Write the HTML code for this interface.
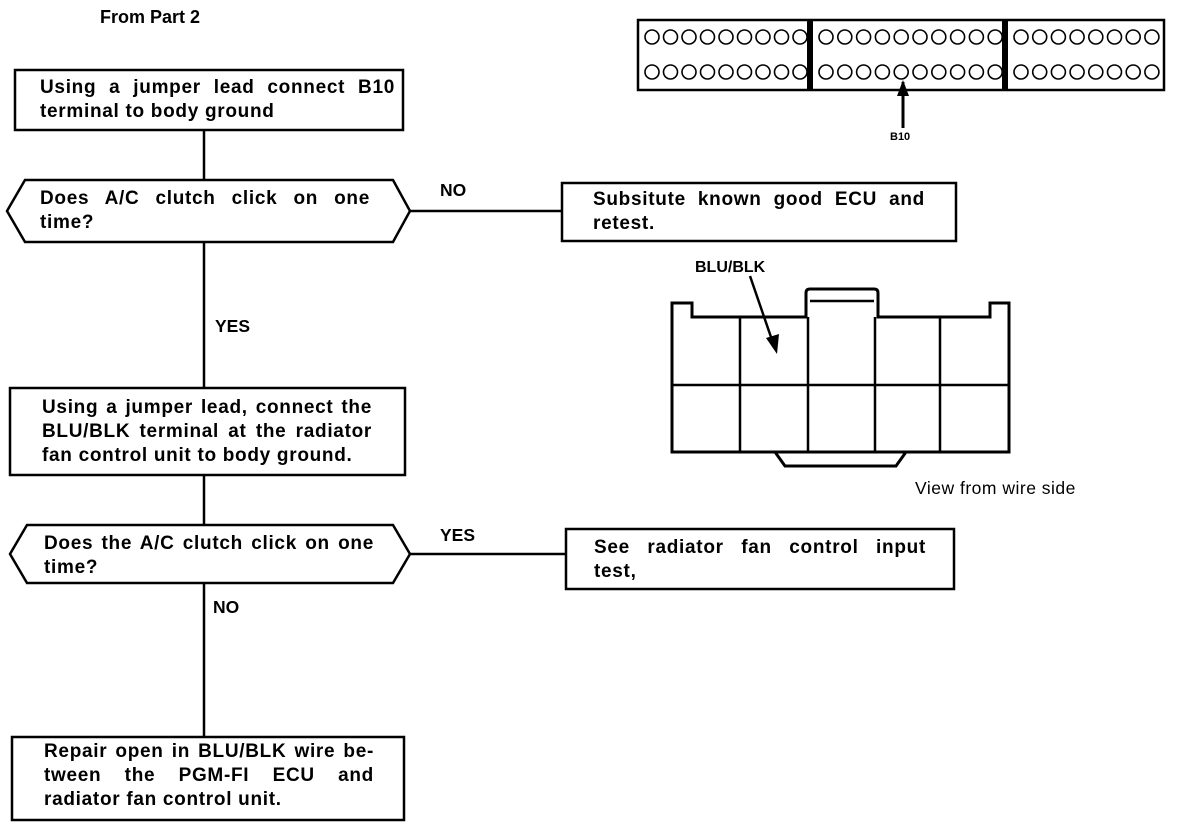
<!DOCTYPE html>
<html><head><meta charset="utf-8"><style>
html,body{margin:0;padding:0;background:#fff;}
body{width:1184px;height:828px;position:relative;overflow:hidden;font-family:"Liberation Sans",sans-serif;font-weight:bold;color:#000;}
.t{position:absolute;font-size:19px;line-height:24px;letter-spacing:0.7px;}
.t div{white-space:nowrap;}
.t .j{text-align:justify;text-align-last:justify;white-space:normal;}
.l{position:absolute;font-size:17.5px;}
svg{position:absolute;left:0;top:0;}
</style></head><body>
<svg width="1184" height="828" viewBox="0 0 1184 828" fill="none" stroke="#000" stroke-width="2.5">
<rect x="15" y="70" width="388" height="60"/>
<line x1="204" y1="130" x2="204" y2="180"/>
<polygon points="25,180 393,180 410,211 393,242 25,242 7,211"/>
<line x1="410" y1="211" x2="562" y2="211"/>
<rect x="562" y="183" width="394" height="58"/>
<line x1="204" y1="242" x2="204" y2="388"/>
<rect x="10" y="388" width="395" height="87"/>
<line x1="204" y1="475" x2="204" y2="525"/>
<polygon points="27,525 393,525 410,554 393,583 27,583 10,554"/>
<line x1="410" y1="554" x2="566" y2="554"/>
<rect x="566" y="529" width="388" height="60"/>
<line x1="204" y1="583" x2="204" y2="737"/>
<rect x="12" y="737" width="392" height="83"/>
<rect x="638" y="20" width="526" height="70"/>
<line x1="810" y1="20" x2="810" y2="90" stroke-width="6"/>
<line x1="1005" y1="20" x2="1005" y2="90" stroke-width="6"/>
<g stroke-width="1.6">
<g id="r1">
<circle cx="652" cy="37" r="7"/><circle cx="670.5" cy="37" r="7"/><circle cx="689" cy="37" r="7"/><circle cx="707.5" cy="37" r="7"/><circle cx="726" cy="37" r="7"/><circle cx="744.5" cy="37" r="7"/><circle cx="763" cy="37" r="7"/><circle cx="781.5" cy="37" r="7"/><circle cx="800" cy="37" r="7"/>
<circle cx="826" cy="37" r="7"/><circle cx="844.8" cy="37" r="7"/><circle cx="863.6" cy="37" r="7"/><circle cx="882.4" cy="37" r="7"/><circle cx="901.2" cy="37" r="7"/><circle cx="920" cy="37" r="7"/><circle cx="938.8" cy="37" r="7"/><circle cx="957.6" cy="37" r="7"/><circle cx="976.4" cy="37" r="7"/><circle cx="995.2" cy="37" r="7"/>
<circle cx="1021" cy="37" r="7"/><circle cx="1039.7" cy="37" r="7"/><circle cx="1058.4" cy="37" r="7"/><circle cx="1077.1" cy="37" r="7"/><circle cx="1095.8" cy="37" r="7"/><circle cx="1114.5" cy="37" r="7"/><circle cx="1133.2" cy="37" r="7"/><circle cx="1151.9" cy="37" r="7"/>
</g>
<use href="#r1" transform="translate(0,35)"/>
</g>
<line x1="903" y1="82" x2="903" y2="128" stroke-width="3"/>
<polygon points="903,80 897,96 909,96" fill="#000" stroke="none"/>
<path d="M672,452 L672,303 L692,303 L692,317 L806,317 L806,293 Q806,289 810,289 L874,289 Q878,289 878,293 L878,317 L990,317 L990,303 L1009,303 L1009,452 Z" stroke-width="3"/>
<line x1="810" y1="301" x2="874" y2="301" stroke-width="2.5"/>
<line x1="672" y1="385" x2="1009" y2="385"/>
<line x1="740" y1="317" x2="740" y2="452"/>
<line x1="808" y1="317" x2="808" y2="452"/>
<line x1="875" y1="317" x2="875" y2="452"/>
<line x1="940" y1="317" x2="940" y2="452"/>
<polyline points="775,452 785,466 896,466 906,452" stroke-width="3"/>
<line x1="750" y1="276" x2="772" y2="340" stroke-width="2.5"/>
<polygon points="777,354 766,338 779,334" fill="#000" stroke="none"/>
</svg>
<div class="l" style="left:100px;top:7px;font-size:18px;">From Part 2</div>
<div class="t" style="left:40px;top:76px;width:355px;"><div class="j">Using a jumper lead connect B10</div><div>terminal to body ground</div></div>
<div class="t" style="left:40px;top:187px;width:330px;"><div class="j">Does A/C clutch click on one</div><div>time?</div></div>
<div class="l" style="left:440px;top:180px;">NO</div>
<div class="t" style="left:593px;top:188px;width:332px;"><div class="j">Subsitute known good ECU and</div><div>retest.</div></div>
<div class="l" style="left:215px;top:316px;">YES</div>
<div class="t" style="left:42px;top:396px;width:330px;"><div class="j">Using a jumper lead, connect the</div><div class="j">BLU/BLK terminal at the radiator</div><div>fan control unit to body ground.</div></div>
<div class="t" style="left:44px;top:532px;width:330px;"><div class="j">Does the A/C clutch click on one</div><div>time?</div></div>
<div class="l" style="left:440px;top:525px;">YES</div>
<div class="t" style="left:594px;top:536px;width:332px;"><div class="j">See radiator fan control input</div><div>test,</div></div>
<div class="l" style="left:213px;top:597px;">NO</div>
<div class="t" style="left:44px;top:740px;width:330px;"><div class="j">Repair open in BLU/BLK wire be-</div><div class="j">tween the PGM-FI ECU and</div><div>radiator fan control unit.</div></div>
<div class="l" style="left:890px;top:131px;font-size:11px;">B10</div>
<div class="l" style="left:695px;top:259px;font-size:16px;">BLU/BLK</div>
<div class="l" style="left:915px;top:478px;font-weight:normal;font-size:17.5px;letter-spacing:0.5px;">View from wire side</div>
</body></html>
